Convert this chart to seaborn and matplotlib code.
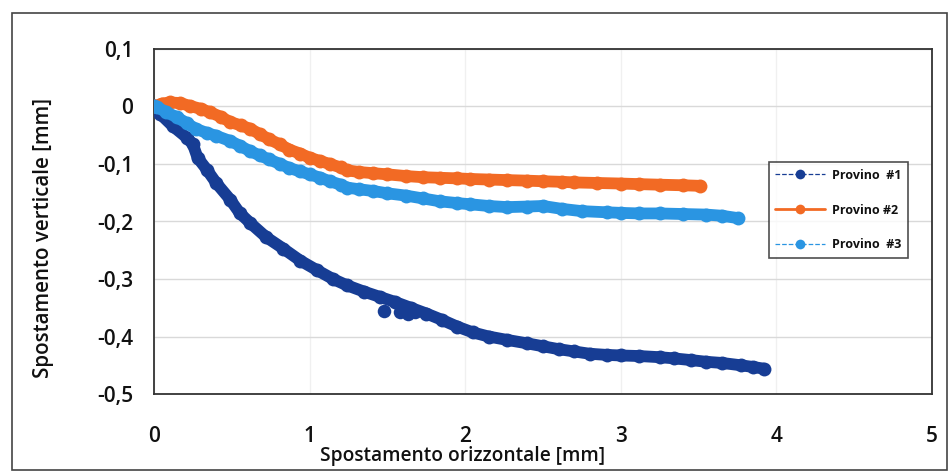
import matplotlib
matplotlib.use("Agg")
import matplotlib.pyplot as plt
import seaborn as sns
import pandas as pd
from matplotlib.lines import Line2D
from matplotlib.patches import Rectangle
from matplotlib.ticker import MultipleLocator, FixedLocator, FixedFormatter

# ---- data ----
s1_x = [0.00, 0.04, 0.12, 0.21, 0.25, 0.28, 0.34, 0.40, 0.49, 0.55, 0.62, 0.72, 0.83, 0.94,
        1.05, 1.15, 1.24, 1.35, 1.45, 1.55, 1.65, 1.75, 1.85, 1.95, 2.05, 2.15, 2.27, 2.40,
        2.50, 2.60, 2.70, 2.80, 2.91, 3.00, 3.12, 3.25, 3.34, 3.45, 3.55, 3.65, 3.77, 3.85, 3.92]
s1_y = [0.000, -0.013, -0.034, -0.054, -0.066, -0.089, -0.110, -0.133, -0.162, -0.185, -0.203,
        -0.227, -0.247, -0.268, -0.285, -0.300, -0.311, -0.322, -0.331, -0.340, -0.350, -0.360,
        -0.371, -0.383, -0.393, -0.400, -0.406, -0.412, -0.417, -0.422, -0.426, -0.430, -0.432,
        -0.433, -0.434, -0.436, -0.438, -0.441, -0.444, -0.446, -0.450, -0.453, -0.456]
s1_out_x = [1.48, 1.58, 1.63, 1.68]
s1_out_y = [-0.356, -0.357, -0.360, -0.358]

s2_x = [0.00, 0.05, 0.10, 0.17, 0.23, 0.30, 0.36, 0.43, 0.49, 0.56, 0.62, 0.68, 0.74, 0.81,
        0.87, 0.94, 1.00, 1.07, 1.13, 1.20, 1.24, 1.32, 1.41, 1.50, 1.62, 1.73, 1.84, 1.95,
        2.03, 2.15, 2.27, 2.40, 2.50, 2.62, 2.70, 2.85, 3.00, 3.12, 3.25, 3.40, 3.51]
s2_y = [0.000, 0.005, 0.007, 0.006, 0.001, -0.004, -0.010, -0.018, -0.027, -0.033, -0.039,
        -0.048, -0.057, -0.066, -0.075, -0.082, -0.089, -0.095, -0.100, -0.106, -0.111, -0.114,
        -0.116, -0.118, -0.121, -0.123, -0.124, -0.125, -0.126, -0.127, -0.128, -0.129, -0.130,
        -0.131, -0.132, -0.133, -0.134, -0.135, -0.136, -0.137, -0.138]

s3_x = [0.00, 0.02, 0.08, 0.15, 0.21, 0.27, 0.34, 0.40, 0.49, 0.55, 0.62, 0.68, 0.74, 0.81,
        0.87, 0.94, 1.00, 1.07, 1.13, 1.20, 1.24, 1.32, 1.41, 1.50, 1.62, 1.73, 1.84, 1.95,
        2.03, 2.15, 2.27, 2.40, 2.50, 2.62, 2.75, 2.91, 3.00, 3.12, 3.25, 3.40, 3.55, 3.65, 3.75]
s3_y = [0.000, -0.001, -0.010, -0.019, -0.029, -0.039, -0.046, -0.051, -0.060, -0.068, -0.078,
        -0.085, -0.092, -0.100, -0.107, -0.113, -0.118, -0.124, -0.130, -0.136, -0.141, -0.144,
        -0.147, -0.151, -0.155, -0.160, -0.165, -0.168, -0.170, -0.173, -0.175, -0.174, -0.173,
        -0.178, -0.182, -0.184, -0.185, -0.186, -0.186, -0.187, -0.188, -0.190, -0.194]

series_names = ["Provino  #1", "Provino #2", "Provino  #3"]
series_colors = ["#173d94", "#f26a24", "#2a95e2"]

x_ticks = [0, 1, 2, 3, 4, 5]
x_ticklabels = ["0", "1", "2", "3", "4", "5"]
y_ticks = [0.1, 0.0, -0.1, -0.2, -0.3, -0.4, -0.5]
y_ticklabels = ["0,1", "0", "-0,1", "-0,2", "-0,3", "-0,4", "-0,5"]

x_label = "Spostamento orizzontale [mm]"
y_label = "Spostamento verticale [mm]"

# ---- plotting ----
sns.set_style("white")
plt.rcParams["font.family"] = ["Open Sans", "DejaVu Sans"]

fig = plt.figure(figsize=(9.53, 4.73), dpi=100)
ax = fig.add_axes([154 / 953, 1 - 394 / 473, (932 - 154) / 953, (394 - 49) / 473])

data = [(s1_x, s1_y), (s2_x, s2_y), (s3_x, s3_y)]
for (xs, ys), name, col in zip(data, series_names, series_colors):
    df = pd.DataFrame({"x": xs, "y": ys})
    sns.lineplot(data=df, x="x", y="y", ax=ax, color=col, sort=False, estimator=None,
                 linewidth=8.5, marker="o", markersize=10, markeredgewidth=0,
                 solid_capstyle="round", legend=False, zorder=3)

df_out = pd.DataFrame({"x": s1_out_x, "y": s1_out_y})
sns.scatterplot(data=df_out, x="x", y="y", ax=ax, color=series_colors[0], s=95,
                linewidth=0, legend=False, zorder=3)

ax.set_xlim(0, 5)
ax.set_ylim(-0.5, 0.1)

ax.xaxis.set_major_locator(FixedLocator(x_ticks))
ax.xaxis.set_major_formatter(FixedFormatter(x_ticklabels))
ax.xaxis.set_minor_locator(MultipleLocator(0.5))
ax.yaxis.set_major_locator(FixedLocator(y_ticks))
ax.yaxis.set_major_formatter(FixedFormatter(y_ticklabels))
ax.yaxis.set_minor_locator(MultipleLocator(0.02))

ax.grid(axis="y", which="major", color="#d9d9d9", linewidth=1.0, zorder=0)
ax.grid(axis="x", which="major", color="#f0f0f0", linewidth=1.0, zorder=0)

for side in ["left", "bottom", "top", "right"]:
    ax.spines[side].set_visible(True)
    ax.spines[side].set_color("#333333")
    ax.spines[side].set_linewidth(1.3)

ax.tick_params(axis="both", which="major", direction="inout", length=12, width=1.3,
               color="#333333", labelsize=15, labelcolor="#111111")
ax.tick_params(axis="both", which="minor", direction="inout", length=7, width=1.2,
               color="#333333")
ax.tick_params(axis="y", which="major", pad=9)
ax.tick_params(axis="x", which="major", pad=17)
for lbl in ax.get_xticklabels() + ax.get_yticklabels():
    lbl.set_fontweight("semibold")

ax.set_xlabel(x_label, fontsize=13.8, fontweight="semibold", color="#111111")
ax.set_ylabel(y_label, fontsize=14.8, fontweight="semibold", color="#111111")
ax.xaxis.set_label_coords(0.397, -0.152)
ax.yaxis.set_label_coords(-0.128, 0.452)

handles = [
    Line2D([0], [0], color=series_colors[0], linestyle="--", linewidth=0.9, marker="o",
           markersize=7, markeredgewidth=0),
    Line2D([0], [0], color=series_colors[1], linestyle="-", linewidth=2.0, marker="o",
           markersize=7, markeredgewidth=0),
    Line2D([0], [0], color=series_colors[2], linestyle="--", linewidth=0.9, marker="o",
           markersize=7, markeredgewidth=0),
]
leg = ax.legend(handles, series_names, loc="upper left", bbox_to_anchor=(0.790, 0.673),
                frameon=True, fancybox=False, shadow=False, fontsize=9,
                handlelength=4.0, labelspacing=1.75, borderpad=0.55, handletextpad=0.5,
                borderaxespad=0)
leg.get_frame().set_edgecolor("#222222")
leg.get_frame().set_linewidth(1.2)
for t in leg.get_texts():
    t.set_fontweight("bold")
    t.set_color("#111111")

# chart-area border
fig.patches.append(Rectangle((12 / 953, 3 / 473), (947 - 12) / 953, (470 - 13) / 473,
                             transform=fig.transFigure, fill=False,
                             edgecolor="#444444", linewidth=1.2))

fig.savefig("out.png", dpi=100)
